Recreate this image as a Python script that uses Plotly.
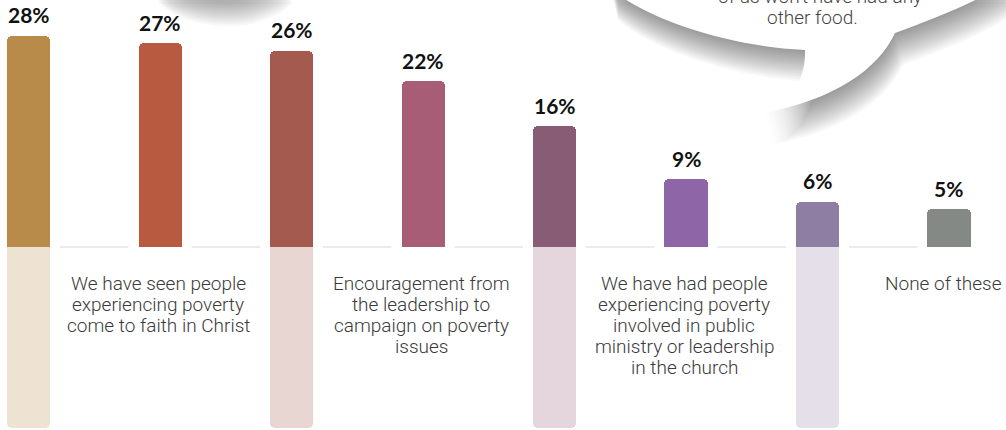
"""Gráfico de barras: acciones de la iglesia frente a la pobreza."""

import plotly.graph_objects as go

# Datos
valores = [28, 27, 26, 22, 16, 9, 6, 5]
etiquetas_pct = ["28%", "27%", "26%", "22%", "16%", "9%", "6%", "5%"]
etiquetas = [
    None,
    ["We have seen people", "experiencing poverty", "come to faith in Christ"],
    None,
    ["Encouragement from", "the leadership to", "campaign on poverty", "issues"],
    None,
    ["We have had people", "experiencing poverty", "involved in public",
     "ministry or leadership", "in the church"],
    None,
    ["None of these"],
]
# panel claro bajo las barras impares (profundidad en unidades del eje)
extension = [-24, None, -24, None, -24, None, -24, None]
texto_globo = ["of us won't have had any", "other food."]

colores = ['#b98b4b', '#b85a40', '#a45a4e', '#a85d77',
           '#875c74', '#8e66a8', '#8e7ea3', '#858985']
colores_ext = ['#eee2d2', '#ffffff', '#e8d6d3', '#ffffff',
               '#e4d6dc', '#ffffff', '#e5dfe9', '#ffffff']

W, H = 1006, 430
x_pos = list(range(len(valores)))

fig = go.Figure()

# Paneles claros (por debajo de la línea base)
fig.add_trace(go.Bar(
    x=x_pos, y=extension, width=0.327,
    marker=dict(color=colores_ext, cornerradius=5, line=dict(width=0)),
    hoverinfo='skip', showlegend=False
))

# Barras principales
fig.add_trace(go.Bar(
    x=x_pos, y=valores, width=0.327,
    marker=dict(color=colores, cornerradius=5, line=dict(width=0)),
    hoverinfo='skip', showlegend=False
))

# Segmentos grises de la línea base entre barras
for i in range(len(valores) - 1):
    fig.add_shape(type='line', x0=i + 0.24, x1=i + 1 - 0.24, y0=0, y1=0,
                  xref='x', yref='y', line=dict(color='#ebebeb', width=2))

# Porcentajes sobre las barras
for i, v in enumerate(valores):
    fig.add_annotation(x=i, y=v, text=etiquetas_pct[i], showarrow=False,
                       yanchor='middle', yshift=21,
                       font=dict(family='Lato', size=21, color='#111111', weight='bold'))

# Etiquetas de categoría (una anotación por línea)
for i, lineas in enumerate(etiquetas):
    if not lineas:
        continue
    for j, linea in enumerate(lineas):
        fig.add_annotation(x=i, y=0, text=linea, showarrow=False,
                           xanchor='center', yanchor='middle',
                           xshift=-2 if i < len(valores) - 1 else -5,
                           yshift=-(36 + 21 * j),
                           font=dict(family='Roboto', size=19, color='#3a3a3a', weight=300))


def px(x):
    return x / W


def py(y):
    return 1 - y / H


def globo_path(dx=0, dy=0):
    def p(x, y):
        return f"{px(x + dx):.5f},{py(y + dy):.5f}"
    return (
        f"M {p(610, -30)} L {p(610, -12)} "
        f"C {p(640, 15)} {p(720, 46)} {p(805, 50)} "
        f"C {p(806, 80)} {p(790, 103)} {p(763, 113)} "
        f"C {p(833, 100)} {p(878, 70)} {p(895, 33)} "
        f"C {p(935, 18)} {p(985, 0)} {p(1015, -25)} "
        f"L {p(1015, -30)} Z"
    )


def globo_izq_path(dx=0, dy=0):
    def p(x, y):
        return f"{px(x + dx):.5f},{py(y + dy):.5f}"
    return (
        f"M {p(150, -30)} C {p(170, -8)} {p(215, -2)} {p(245, -8)} "
        f"C {p(265, -14)} {p(280, -22)} {p(285, -30)} Z"
    )


# Sombra difusa: copias desplazadas y casi transparentes
n_capas = 16
for k in range(n_capas):
    t = (k + 1) / n_capas
    dx, dy = 8 * t, 32 * t
    for f in (globo_path, globo_izq_path):
        fig.add_shape(type='path', path=f(dx, dy), xref='paper', yref='paper',
                      fillcolor='black', opacity=0.026, line=dict(width=0), layer='above')
for f in (globo_path, globo_izq_path):
    fig.add_shape(type='path', path=f(), xref='paper', yref='paper',
                  fillcolor='white', line=dict(width=0), layer='above')

# Texto del globo
for j, linea in enumerate(texto_globo):
    fig.add_annotation(x=px(820 - 8 * j), y=py(-4 + 21 * j), xref='paper', yref='paper',
                       text=linea, showarrow=False, xanchor='center', yanchor='middle',
                       font=dict(family='Roboto', size=19, color='#444444', weight=300))

fig.update_layout(
    width=W, height=H,
    margin=dict(l=0, r=0, t=0, b=0),
    paper_bgcolor='white', plot_bgcolor='white',
    barmode='overlay', bargap=0,
    showlegend=False, hovermode=False,
    xaxis=dict(range=[-0.2167, 7.4335], visible=False, fixedrange=True),
    yaxis=dict(range=[-24.27, 32.76], visible=False, fixedrange=True),
)

fig.write_html("out.html", config={'displayModeBar': False},
               post_script="document.body.style.margin='0px';")
